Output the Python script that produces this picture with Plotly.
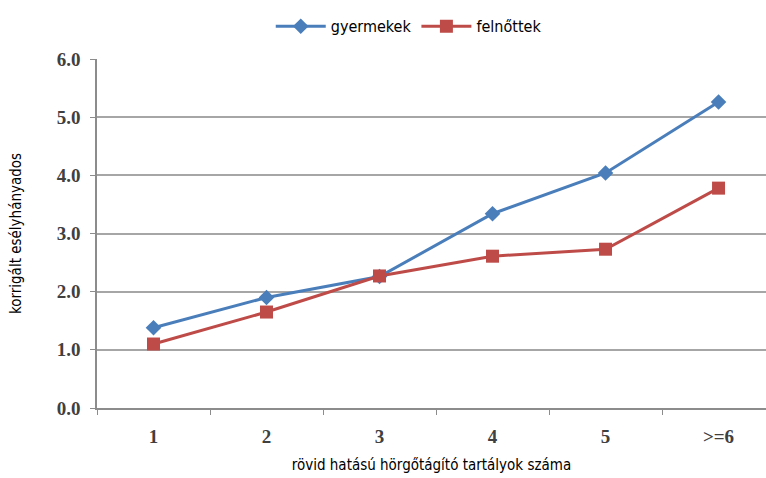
import plotly.graph_objects as go

categories = ["1", "2", "3", "4", "5", ">=6"]
gyermekek = [1.38, 1.90, 2.26, 3.34, 4.04, 5.26]
felnottek = [1.10, 1.65, 2.27, 2.61, 2.73, 3.78]
y_ticks = [0, 1, 2, 3, 4, 5, 6]
y_tick_labels = ["0.0", "1.0", "2.0", "3.0", "4.0", "5.0", "6.0"]

narrow = "Liberation Sans Narrow, DejaVu Sans Condensed, Arial Narrow, sans-serif"
serif = "Liberation Serif, Times New Roman, serif"

fig = go.Figure()
fig.add_trace(go.Scatter(
    x=categories, y=gyermekek, name="gyermekek", mode="lines+markers",
    line=dict(color="#4A7EBB", width=3),
    marker=dict(symbol="diamond", size=12, color="#4A7EBB"),
))
fig.add_trace(go.Scatter(
    x=categories, y=felnottek, name="felnőttek", mode="lines+markers",
    line=dict(color="#BE4B48", width=3),
    marker=dict(symbol="square", size=13, color="#BE4B48"),
))

fig.update_layout(
    width=766, height=478,
    margin=dict(l=97, r=0, t=59, b=70),
    paper_bgcolor="white", plot_bgcolor="white",
    showlegend=True,
    legend=dict(orientation="h", x=0.466, xanchor="center", y=1.045, yanchor="bottom",
                font=dict(family=narrow, size=16, color="#000000"),
                itemwidth=50, tracegroupgap=0),
    xaxis=dict(
        type="category", range=[-0.5, 5.42],
        showline=True, linecolor="#8C8C8C", linewidth=1.5,
        ticks="outside", tickson="boundaries", ticklen=5, tickcolor="#8C8C8C",
        showgrid=False,
        tickfont=dict(family=serif, size=19, color="#404040", weight="bold"),
        ticklabelstandoff=10,
        title=dict(text="rövid hatású hörgőtágító tartályok száma",
                   font=dict(family=narrow, size=15, color="#000000"), standoff=14),
    ),
    yaxis=dict(
        range=[0, 6], tickvals=y_ticks, ticktext=y_tick_labels,
        showline=True, linecolor="#8C8C8C", linewidth=1.5,
        ticks="outside", ticklen=5, tickcolor="#8C8C8C",
        showgrid=True, gridcolor="#A6A6A6", gridwidth=2,
        zeroline=False,
        tickfont=dict(family=serif, size=19, color="#404040", weight="bold"),
        ticklabelstandoff=6,
        title=dict(text="korrigált esélyhányados",
                   font=dict(family=narrow, size=15, color="#000000"), standoff=31),
    ),
)

fig.write_html("out.html")
